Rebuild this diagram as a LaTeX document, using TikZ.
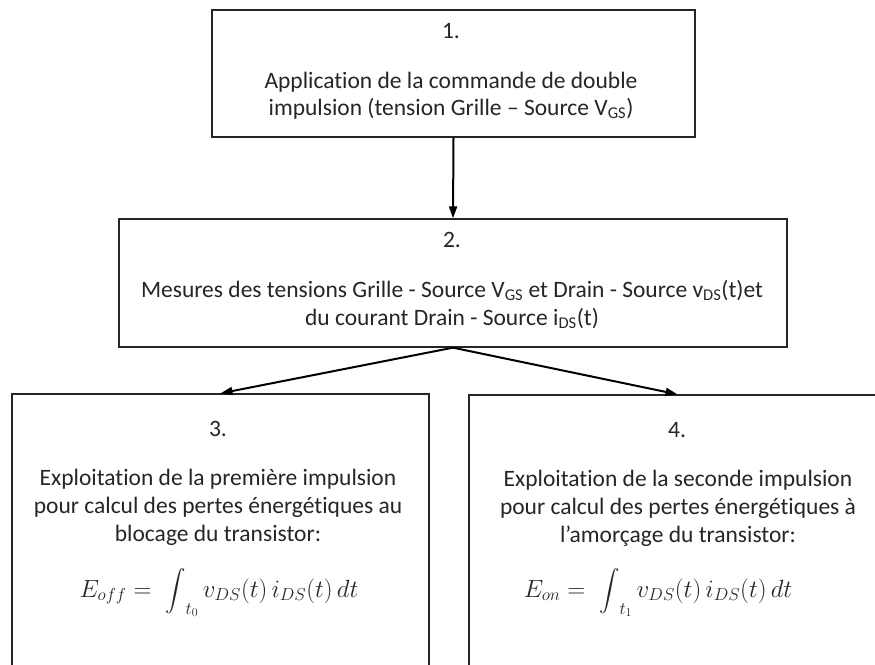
\documentclass[tikz,border=0pt]{standalone}
\usepackage{amsmath}
\usepackage{exscale}
\usepackage{fontspec}
\setmainfont{Carlito}[Ligatures={TeX,NoCommon,NoRequired,NoContextual},Contextuals={NoAlternate}]
\usetikzlibrary{arrows.meta}
\newcommand{\smint}{\mathop{\vcenter{\hbox{\scalebox{0.82}{$\displaystyle\int$}}}}\nolimits}
\begin{document}
\begin{tikzpicture}[x=1pt,y=-1pt,
  box/.style={draw=black!85, line width=1.3pt, inner sep=0pt, fill=none},
  txt/.style={anchor=base, inner sep=0pt, font=\fontsize{23.5}{28}\selectfont, text=black!85},
  eqn/.style={anchor=base, inner sep=0pt, font=\fontsize{24.5}{28}\selectfont, text=black!85},
  conn/.style={-{Triangle[length=12pt,width=8pt]}, line width=2pt, black}]
\useasboundingbox (0,0) rectangle (875,664);
\clip (0,0) rectangle (875,664);
\fill[white] (0,0) rectangle (875,664);
% boxes
\node[box, minimum width=483pt, minimum height=127pt] (b1) at (453.5,73.5) {};
\node[box, minimum width=668pt, minimum height=128pt] (b2) at (453,283) {};
\node[box, minimum width=417pt, minimum height=326pt] (b3) at (220.5,557) {};
\node[box, minimum width=417pt, minimum height=326pt] (b4) at (677.5,558) {};
% box 1 text
\node[txt] (t1a) at (451,38) {1.};
\node[txt] (t1b) at (451,88) {Application de la commande de double};
\node[txt] (t1c) at (451,115) {impulsion (tension Grille – Source V\textsubscript{GS})};
% box 2 text
\node[txt] (t2a) at (452,247) {2.};
\node[txt] (t2b) at (452,297) {Mesures des tensions Grille - Source V\textsubscript{GS} et Drain - Source v\textsubscript{DS}(t)et};
\node[txt] (t2c) at (452,325) {du courant Drain - Source i\textsubscript{DS}(t)};
% box 3 text
\node[txt] (t3a) at (218,436) {3.};
\node[txt] (t3b) at (218,485) {Exploitation de la première impulsion};
\node[txt] (t3c) at (218,513) {pour calcul des pertes énergétiques au};
\node[txt] (t3d) at (218,541) {blocage du transistor:};
\node[eqn] (t3e) at (219,597) {$\displaystyle E_{off} =\; \smint_{t_0} v_{DS}(t)\, i_{DS}(t)\, dt$};
% box 4 text
\node[txt] (t4a) at (677,437) {4.};
\node[txt] (t4b) at (678,486) {Exploitation de la seconde impulsion};
\node[txt] (t4c) at (678,514) {pour calcul des pertes énergétiques à};
\node[txt] (t4d) at (678,542) {l’amorçage du transistor:};
\node[eqn] (t4e) at (658,597) {$\displaystyle E_{on} =\; \smint_{t_1} v_{DS}(t)\, i_{DS}(t)\, dt$};
% connectors
\draw[conn] (b1.south) -- (b2.north);
\draw[conn] (b2.south) -- (b3.north);
\draw[conn] (b2.south) -- (b4.north);
\end{tikzpicture}
\end{document}
